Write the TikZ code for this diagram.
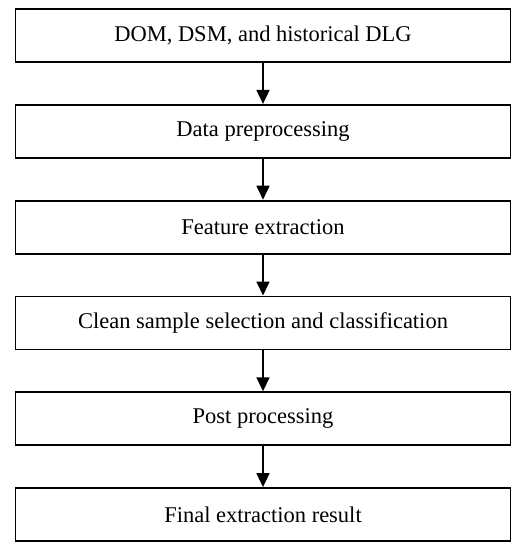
\documentclass[tikz,border=0pt]{standalone}
\usepackage{fontspec}
\setmainfont{Liberation Serif}
\usetikzlibrary{arrows.meta}
\begin{document}
\begin{tikzpicture}[x=1pt,y=-1pt,
  stepbox/.style={draw, line width=1.8pt, minimum width=495pt, minimum height=53pt, inner sep=0pt, font=\fontsize{22.5}{26}\selectfont},
  flow/.style={line width=1.8pt, -{Triangle[width=13pt,length=14pt]}}]
\useasboundingbox (0,0) rectangle (521,550);
\node[stepbox] (b1) at (263,35.5) {DOM, DSM, and historical DLG};
\node[stepbox] (b2) at (263,131.3) {Data preprocessing};
\node[stepbox] (b3) at (263,227.1) {Feature extraction};
\node[stepbox] (b4) at (263,322.9) {Clean sample selection and classification};
\node[stepbox] (b5) at (263,418.7) {Post processing};
\node[stepbox] (b6) at (263,514.5) {Final extraction result};
\foreach \a/\b in {b1/b2,b2/b3,b3/b4,b4/b5,b5/b6}
  \draw[flow] (\a.south) -- (\b.north);
\end{tikzpicture}
\end{document}
